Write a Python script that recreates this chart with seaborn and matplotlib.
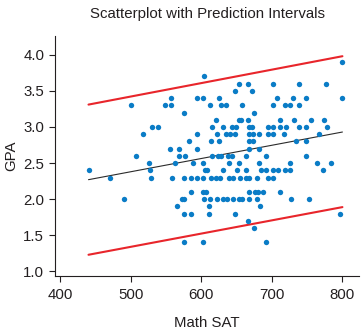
import matplotlib
matplotlib.use("Agg")
import matplotlib.pyplot as plt
import seaborn as sns
import pandas as pd

# ---- data ----
math_sat = [
    800,
    604,
    653, 666, 702, 738, 777,
    648, 672,
    557, 594, 603, 625, 707, 730, 748, 800,
    500, 548, 557, 612, 628, 635, 658, 701, 719, 725, 739,
    576, 675,
    621, 654, 656, 666, 711, 731, 756, 774,
    530, 539, 615, 630, 643, 649, 667, 672, 695, 701, 712, 720, 739, 749, 778,
    517, 594, 622, 635, 641, 647, 668, 673, 682, 695, 701, 717, 767,
    583, 613, 625, 668, 673, 734, 749,
    556, 569, 594, 668, 682,
    508, 568, 577, 615, 623, 628, 638, 644, 664, 692, 749,
    526, 563, 588, 603, 639, 654, 682, 726, 764, 784,
    440, 527, 605, 608, 630, 650, 664, 684, 692, 701, 709, 719, 725, 772,
    471, 529, 558, 576, 585, 594, 603, 613, 621, 627, 639, 645, 655, 664, 668, 679, 694, 701,
    585, 602, 607, 667, 676, 680, 688, 711,
    490, 572, 576, 604, 612, 622, 631, 636, 645, 654, 657, 667, 679, 727, 753,
    565, 611, 683,
    576, 586, 611, 648, 797,
    666,
    674,
    576, 602, 691,
]
gpa = (
    [3.9] * 1 + [3.7] * 1 + [3.6] * 5 + [3.5] * 2 + [3.4] * 8 + [3.3] * 11
    + [3.2] * 2 + [3.1] * 8 + [3.0] * 15 + [2.9] * 13 + [2.8] * 7 + [2.7] * 5
    + [2.6] * 11 + [2.5] * 10 + [2.4] * 14 + [2.3] * 18 + [2.1] * 8
    + [2.0] * 15 + [1.9] * 3 + [1.8] * 5 + [1.7] * 1 + [1.6] * 1 + [1.4] * 3
)

line_sat = [440, 800]
fit_gpa = [2.27, 2.93]
upper_gpa = [3.31, 3.98]
lower_gpa = [1.23, 1.89]

x_ticks = [400, 500, 600, 700, 800]
y_ticks = [1.0, 1.5, 2.0, 2.5, 3.0, 3.5, 4.0]

df = pd.DataFrame({"Math SAT": math_sat, "GPA": gpa})
lines = pd.DataFrame({"sat": line_sat, "fit": fit_gpa,
                      "upper": upper_gpa, "lower": lower_gpa})

# ---- style ----
sns.set_style("ticks")
plt.rcParams["font.family"] = ["Liberation Sans", "DejaVu Sans"]
text_color = "#231f20"
plt.rcParams["text.color"] = text_color
plt.rcParams["axes.labelcolor"] = text_color
plt.rcParams["xtick.color"] = text_color
plt.rcParams["ytick.color"] = text_color

fs = 10.8

fig = plt.figure(figsize=(3.64, 3.36), dpi=100)
ax = fig.add_axes([55 / 364, 1 - 275.7 / 336, (359 - 55) / 364, (275.7 - 36) / 336])

sns.scatterplot(data=df, x="Math SAT", y="GPA", ax=ax, color="#0a7cc6",
                s=15, linewidth=0, zorder=3)
sns.lineplot(data=lines, x="sat", y="fit", ax=ax, color="#2b2b2b",
             linewidth=0.8, zorder=2)
sns.lineplot(data=lines, x="sat", y="upper", ax=ax, color="#e8252b",
             linewidth=1.5, zorder=2)
sns.lineplot(data=lines, x="sat", y="lower", ax=ax, color="#e8252b",
             linewidth=1.5, zorder=2)

ax.set_xlim(392.5, 823.5)
ax.set_ylim(0.94, 4.26)
ax.set_xticks(x_ticks)
ax.set_yticks(y_ticks)
ax.set_yticklabels([f"{v:.1f}" for v in y_ticks])

for side in ["top", "right"]:
    ax.spines[side].set_visible(False)
for side in ["left", "bottom"]:
    ax.spines[side].set_color(text_color)
    ax.spines[side].set_linewidth(0.8)

ax.tick_params(axis="both", labelsize=fs, length=4.3, width=0.8, direction="out")
ax.tick_params(axis="x", pad=4.5)
ax.tick_params(axis="y", pad=3.5)

ax.set_xlabel("Math SAT", fontsize=fs)
ax.set_ylabel("GPA", fontsize=fs)
ax.xaxis.set_label_coords(0.5, -0.168)
ax.yaxis.set_label_coords(-0.12, 0.5)
ax.set_title("Scatterplot with Prediction Intervals", fontsize=fs, pad=13,
             color=text_color)

fig.savefig("out.png", dpi=100)
